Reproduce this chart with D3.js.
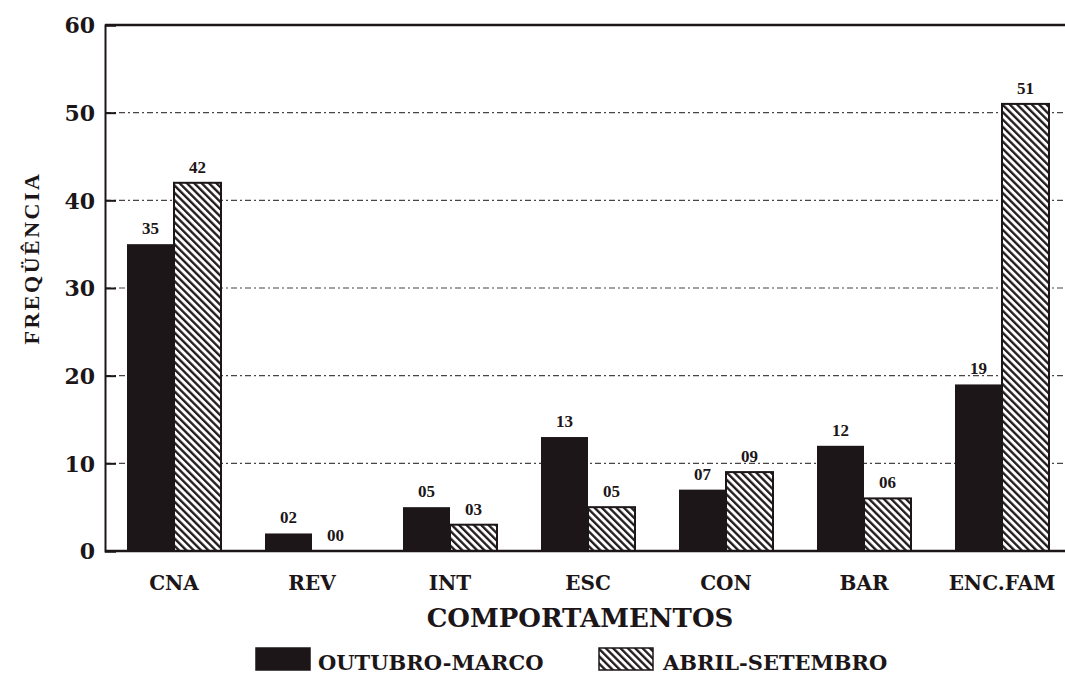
<!DOCTYPE html>
<html>
<head>
<meta charset="utf-8">
<script src="https://cdn.jsdelivr.net/npm/d3@7/dist/d3.min.js"></script>
<style>
  html, body { margin: 0; padding: 0; background: #fff; }
  svg { display: block; }
</style>
</head>
<body>
<svg id="chart" width="1065" height="678"></svg>
<script>
const categories = ["CNA", "REV", "INT", "ESC", "CON", "BAR", "ENC.FAM"];
const seriesNames = ["OUTUBRO-MARCO", "ABRIL-SETEMBRO"];
const outubroMarco = [35, 2, 5, 13, 7, 12, 19];
const abrilSetembro = [42, 0, 3, 5, 9, 6, 51];
const valueLabels1 = ["35", "02", "05", "13", "07", "12", "19"];
const valueLabels2 = ["42", "00", "03", "05", "09", "06", "51"];
const yTicks = [0, 10, 20, 30, 40, 50, 60];
const yTitle = "FREQÜÊNCIA";
const xTitle = "COMPORTAMENTOS";

(function () {
const svg = d3.select("#chart");
const serif = "'DejaVu Serif', 'Liberation Serif', serif";

const pLeft = 105, pRight = 1065, pTop = 25, pBottom = 551;

const defs = svg.append("defs");
const pat = defs.append("pattern")
  .attr("id", "hatch")
  .attr("patternUnits", "userSpaceOnUse")
  .attr("width", 5.2).attr("height", 5.2)
  .attr("patternTransform", "rotate(-45)");
pat.append("rect").attr("width", 5.2).attr("height", 5.2).attr("fill", "#fff");
pat.append("line").attr("x1", 1.2).attr("y1", 0).attr("x2", 1.2).attr("y2", 5.2)
  .attr("stroke", "#1c1618").attr("stroke-width", 2.3);

const x0 = d3.scaleBand().domain(categories).range([pLeft, pLeft + 138 * categories.length]).padding(0);
const x1 = d3.scaleBand().domain(seriesNames).range([0, x0.bandwidth()]).paddingInner(0).paddingOuter(0.468);
const y = d3.scaleLinear().domain([0, 60]).range([pBottom, pTop]);

// grid lines
svg.append("g").selectAll("line").data(yTicks.filter(t => t > 0 && t < 60)).join("line")
  .attr("x1", pLeft).attr("x2", pRight)
  .attr("y1", d => y(d)).attr("y2", d => y(d))
  .attr("stroke", "#4a4446").attr("stroke-width", 1.2)
  .attr("stroke-dasharray", "6,3,2,3");

// bars
const data = categories.map((c, i) => ({
  cat: c,
  vals: [
    { s: seriesNames[0], v: outubroMarco[i], lab: valueLabels1[i] },
    { s: seriesNames[1], v: abrilSetembro[i], lab: valueLabels2[i] }
  ]
}));

const groups = svg.append("g").selectAll("g").data(data).join("g")
  .attr("transform", d => `translate(${x0(d.cat)},0)`);

groups.selectAll("rect").data(d => d.vals).join("rect")
  .attr("x", d => x1(d.s))
  .attr("y", d => y(d.v))
  .attr("width", x1.bandwidth())
  .attr("height", d => y(0) - y(d.v))
  .attr("fill", d => d.s === seriesNames[0] ? "#1c1618" : "url(#hatch)")
  .attr("stroke", "#1c1618")
  .attr("stroke-width", d => d.s === seriesNames[0] ? 0 : 2);

groups.selectAll("text").data(d => d.vals).join("text")
  .attr("x", d => x1(d.s) + x1.bandwidth() / 2)
  .attr("y", d => y(d.v) - 10)
  .attr("text-anchor", "middle")
  .attr("font-family", "'Liberation Serif', serif")
  .attr("font-weight", "bold")
  .attr("font-size", 17)
  .attr("fill", "#1c1618")
  .text(d => d.lab);

// frame
svg.append("line").attr("x1", pLeft).attr("x2", pRight).attr("y1", pTop).attr("y2", pTop)
  .attr("stroke", "#1c1618").attr("stroke-width", 2.5);
svg.append("line").attr("x1", pLeft).attr("x2", pRight).attr("y1", pBottom).attr("y2", pBottom)
  .attr("stroke", "#1c1618").attr("stroke-width", 2.5);

// y axis
const yAxis = d3.axisLeft(y).tickValues(yTicks).tickSize(-11).tickPadding(10).tickFormat(d3.format("d"));
const ya = svg.append("g").attr("transform", `translate(${pLeft},0)`).call(yAxis);
ya.select(".domain").attr("stroke", "#1c1618").attr("stroke-width", 2);
ya.selectAll(".tick line").attr("stroke", "#1c1618").attr("stroke-width", 2);
ya.selectAll(".tick text")
  .attr("font-family", serif).attr("font-weight", "bold").attr("font-size", 22)
  .attr("fill", "#1c1618").attr("dy", "0.36em");

// x axis labels
const xa = svg.append("g").attr("transform", `translate(0,${pBottom})`)
  .call(d3.axisBottom(x0).tickSize(0).tickPadding(25));
xa.select(".domain").remove();
xa.selectAll(".tick text")
  .attr("font-family", serif).attr("font-weight", "bold").attr("font-size", 20)
  .attr("fill", "#1c1618");

// titles
svg.append("text")
  .attr("x", 580).attr("y", 627)
  .attr("text-anchor", "middle")
  .attr("font-family", serif).attr("font-weight", "bold").attr("font-size", 26)
  .attr("fill", "#1c1618")
  .text(xTitle);

svg.append("text")
  .attr("transform", "translate(39,258) rotate(-90)")
  .attr("text-anchor", "middle")
  .attr("font-family", "'Liberation Serif', serif").attr("font-weight", "bold").attr("font-size", 22)
  .attr("letter-spacing", 2.5)
  .attr("fill", "#1c1618")
  .text(yTitle);

// legend
const legendItems = [
  { name: seriesNames[0], rx: 256, tx: 318, fill: "#1c1618" },
  { name: seriesNames[1], rx: 599, tx: 663, fill: "url(#hatch)" }
];
const lg = svg.append("g").selectAll("g").data(legendItems).join("g");
lg.append("rect")
  .attr("x", d => d.rx).attr("y", 648).attr("width", 54).attr("height", 22)
  .attr("fill", d => d.fill).attr("stroke", "#1c1618").attr("stroke-width", 1.5);
lg.append("text")
  .attr("x", d => d.tx).attr("y", 670)
  .attr("font-family", serif).attr("font-weight", "bold").attr("font-size", 21)
  .attr("fill", "#1c1618")
  .text(d => d.name);
})();
</script>
</body>
</html>
